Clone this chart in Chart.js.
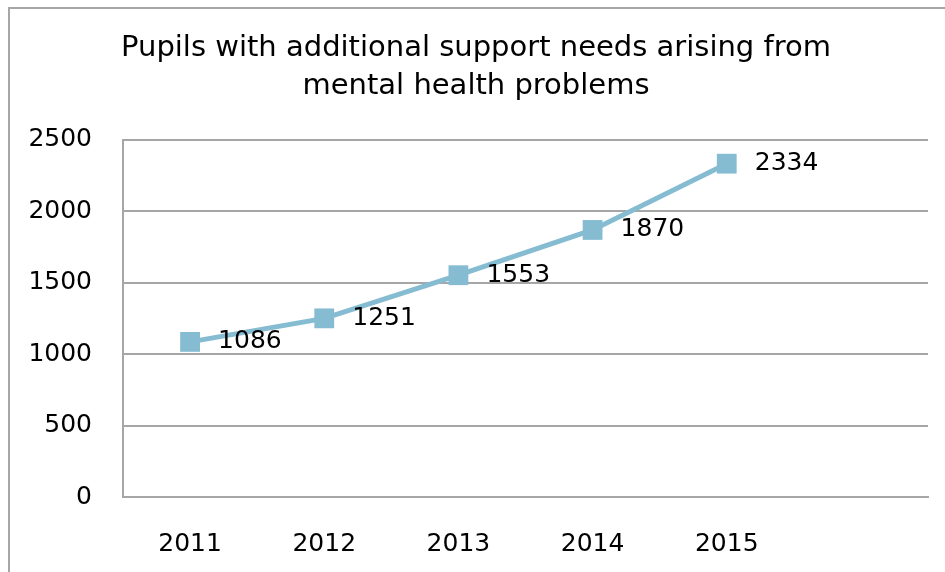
<!DOCTYPE html>
<html>
<head>
<meta charset="utf-8">
<script src="https://cdn.jsdelivr.net/npm/chart.js@4/dist/chart.umd.min.js"></script>
<style>
  html, body { margin: 0; padding: 0; background: #fff; }
  #wrap { position: relative; width: 945px; height: 572px; overflow: hidden; }
  #frame { position: absolute; left: 8px; top: 7px; width: 960px; height: 600px;
           border-left: 2px solid #a6a6a6; border-top: 2px solid #a6a6a6; }
  #chart { position: absolute; left: 0; top: 0; }
</style>
</head>
<body>
<div id="wrap">
  <div id="frame"></div>
  <canvas id="chart" width="945" height="572"></canvas>
</div>
<script>
// chart data
const years = ['2011', '2012', '2013', '2014', '2015', ''];
const pupils = [1086, 1251, 1553, 1870, 2334, null];
const titleLines = ['Pupils with additional support needs arising from', 'mental health problems'];

const lineColor = '#85bcd1';
const gridColor = '#a6a6a6';
const fontFamily = '"DejaVu Sans", sans-serif';

// draws the value next to each point
const valueLabels = {
    id: 'valueLabels',
    afterDatasetsDraw(chart) {
        const ctx = chart.ctx;
        const meta = chart.getDatasetMeta(0);
        ctx.save();
        ctx.font = '25px ' + fontFamily;
        ctx.fillStyle = '#000';
        ctx.textAlign = 'left';
        ctx.textBaseline = 'middle';
        meta.data.forEach((pt, i) => {
            const v = pupils[i];
            if (v === null) return;
            ctx.fillText(String(v), pt.x + 28, pt.y);
        });
        ctx.restore();
    }
};

const ctx = document.getElementById('chart').getContext('2d');
new Chart(ctx, {
    type: 'line',
    data: {
        labels: years,
        datasets: [{
            data: pupils,
            borderColor: lineColor,
            backgroundColor: lineColor,
            borderWidth: 5,
            pointStyle: 'rect',
            pointRadius: 14,
            pointHoverRadius: 14,
            pointBorderWidth: 0,
            tension: 0,
            fill: false
        }]
    },
    options: {
        responsive: false,
        animation: false,
        layout: { padding: { left: 24, right: 17, top: 0, bottom: 0 } },
        plugins: {
            legend: { display: false },
            tooltip: { enabled: false },
            title: {
                display: true,
                text: titleLines,
                color: '#000',
                font: { family: fontFamily, size: 29, weight: 'normal', lineHeight: 1.31 },
                padding: { top: 29, bottom: 35 }
            }
        },
        scales: {
            x: {
                offset: true,
                grid: { display: false, offset: true },
                border: { display: true, color: gridColor, width: 2 },
                ticks: {
                    color: '#000',
                    font: { family: fontFamily, size: 25 },
                    padding: 24,
                    maxRotation: 0,
                    autoSkip: false
                },
                afterFit(scale) { scale.height = 75; }
            },
            y: {
                min: 0,
                max: 2500,
                ticks: {
                    stepSize: 500,
                    color: '#000',
                    font: { family: fontFamily, size: 25 },
                    padding: 31,
                    callback: (v) => String(v)
                },
                grid: { color: gridColor, lineWidth: 2, drawTicks: false },
                border: { display: true, color: gridColor, width: 2 },
                afterFit(scale) { scale.width = 99; }
            }
        }
    },
    plugins: [valueLabels]
});
</script>
</body>
</html>
